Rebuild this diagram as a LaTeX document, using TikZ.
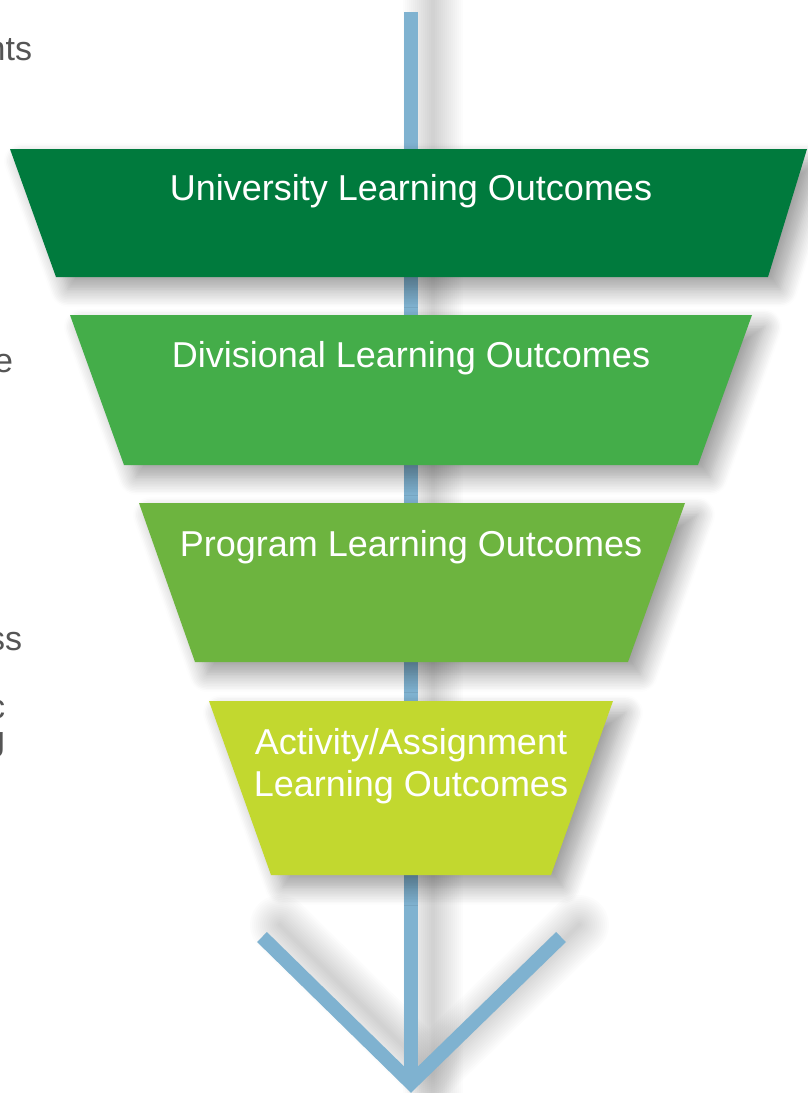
\documentclass[tikz,border=0pt]{standalone}
\usepackage{fontspec}
\setmainfont{Liberation Sans}
\usetikzlibrary{shadows.blur}
\definecolor{c007a3d}{RGB}{0,122,61}
\definecolor{c44ad49}{RGB}{68,173,73}
\definecolor{c6db43f}{RGB}{109,180,63}
\definecolor{cc2d82f}{RGB}{194,216,47}
\definecolor{c7fb2d0}{RGB}{127,178,208}
\definecolor{c555555}{RGB}{85,85,85}

\begin{document}
\begin{tikzpicture}[y=1pt,x=1pt,yscale=-1, inner sep=0pt, outer sep=0pt,
  tier/.style={blur shadow={shadow xshift=12pt, shadow yshift=-12pt,
    shadow blur radius=18pt, shadow opacity=40, shadow blur steps=12}},
  tiertext/.style={text=white, font=\fontsize{36}{42}\selectfont, align=center},
  sidetext/.style={text=c555555, font=\fontsize{34}{40}\selectfont, anchor=base east},
  stem/.style={draw=c7fb2d0, line width=14pt},
  stemshade/.style={draw=black, opacity=0.012, line join=round, line cap=round}]
  \useasboundingbox (0,0) rectangle (807,1093);

  % side column, cut off at the page edge
  \path (32,60) node[sidetext] (sideA) {nts};
  \path (13,372) node[sidetext] (sideB) {e};
  \path (22,650) node[sidetext] (sideC) {ss};
  \path (5,718) node[sidetext] (sideD) {c};
  \path (5,750) node[sidetext] (sideE) {g};

  % stem and arrow head
  \coordinate (stemTop) at (411,12);
  \coordinate (stemTip) at (411,1083);
  \coordinate (armLeft) at (262,937);
  \coordinate (armRight) at (561,937);
  \foreach \w in {4,8,...,60}{
    \path[stemshade, line width=\w pt]
      ([xshift=22pt,yshift=-30pt]stemTop) -- ([xshift=22pt,yshift=30pt]stemTip);
    \path[stemshade, line width=\w pt]
      ([xshift=18pt,yshift=-12pt]armLeft) -- ([xshift=18pt,yshift=-12pt]stemTip)
      -- ([xshift=18pt,yshift=-12pt]armRight);
  }
  \path[stem] (stemTop) -- (stemTip);
  \path[stem, line join=miter] (armLeft) -- (stemTip) -- (armRight);

  % tiers
  \path[tier, fill=c007a3d] (10,149) -- (807,149) -- (768,277) -- (56,277) -- cycle;
  \path (411,191) node[tiertext] (university) {University Learning Outcomes};
  \path[tier, fill=c44ad49] (70,315) -- (752,315) -- (698,465) -- (124,465) -- cycle;
  \path (411,358) node[tiertext] (divisional) {Divisional Learning Outcomes};
  \path[tier, fill=c6db43f] (139,503) -- (685,503) -- (628,662) -- (195,662) -- cycle;
  \path (411,547) node[tiertext] (program) {Program Learning Outcomes};
  \path[tier, fill=cc2d82f] (209,701) -- (613,701) -- (551,875) -- (271,875) -- cycle;
  \path (411,766) node[tiertext] (activity) {Activity/Assignment\\Learning Outcomes};

\end{tikzpicture}
\end{document}
